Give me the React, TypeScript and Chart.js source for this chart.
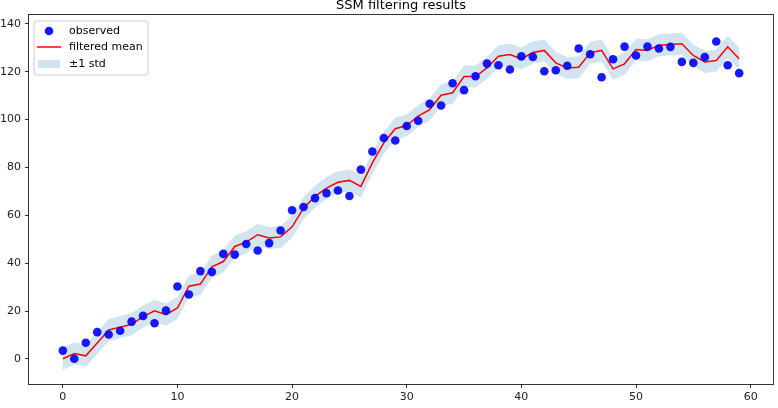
import React, { useEffect, useRef } from "react";
import { Chart, registerables } from "chart.js";

Chart.register(...registerables);

// Time steps 0..59
const steps: number[] = Array.from({ length: 60 }, (_, i) => i);

// Noisy observations
const observed: number[] = [
  3.5, 0.1, 6.8, 11.2, 10.2, 11.8, 15.6, 18.0, 14.9, 20.2,
  30.3, 26.9, 36.7, 36.4, 43.9, 43.6, 48.0, 45.3, 48.4, 53.7,
  62.1, 63.5, 67.2, 69.3, 70.4, 68.1, 79.1, 86.7, 92.3, 91.3,
  97.3, 99.5, 106.6, 105.9, 115.2, 112.3, 118.1, 123.4, 122.7, 120.9,
  126.4, 126.2, 120.2, 120.6, 122.5, 129.7, 127.3, 117.7, 125.2, 130.5,
  126.8, 130.5, 129.7, 130.4, 124.1, 123.7, 126.1, 132.6, 122.7, 119.4,
];

// Kalman filtered state mean
const filteredMean: number[] = [
  0.1, 2.3, 1.3, 6.7, 12.1, 13.3, 14.5, 17.7, 20.1, 18.5,
  21.3, 30.4, 31.3, 38.5, 40.7, 47.0, 48.8, 51.9, 50.5, 51.0,
  55.2, 63.0, 67.9, 71.4, 73.8, 74.6, 72.1, 81.9, 90.3, 96.2,
  97.5, 101.5, 104.2, 110.2, 111.2, 118.0, 118.0, 121.6, 126.5, 127.2,
  125.4, 128.0, 128.9, 123.7, 121.6, 121.9, 127.9, 128.9, 121.2, 123.3,
  129.3, 128.9, 131.1, 131.4, 131.7, 126.8, 124.1, 124.7, 130.4, 125.4,
];

// Filtered standard deviation
const filteredStd: number[] = [
  4.7, 4.6, 4.6, 4.6, 4.6, 4.6, 4.6, 4.6, 4.6, 4.6,
  4.6, 4.6, 4.6, 4.6, 4.6, 4.6, 4.6, 4.6, 4.6, 4.6,
  4.6, 4.6, 4.6, 4.6, 4.6, 4.6, 4.6, 4.6, 4.6, 4.6,
  4.6, 4.6, 4.6, 4.6, 4.6, 4.6, 4.6, 4.6, 4.6, 4.6,
  4.6, 4.6, 4.6, 4.6, 4.6, 4.6, 4.6, 4.6, 4.6, 4.6,
  4.6, 4.6, 4.6, 4.6, 4.6, 4.6, 4.6, 4.6, 4.6, 4.6,
];

const xTicks: number[] = [0, 10, 20, 30, 40, 50, 60];
const yTicks: number[] = [0, 20, 40, 60, 80, 100, 120, 140];

const TITLE = "SSM filtering results";
const LEGEND_LABELS = ["observed", "filtered mean", "±1 std"];

const FONT = "DejaVu Sans, sans-serif";
const POINT_COLOR = "rgba(0, 0, 255, 0.9)";
const LINE_COLOR = "rgb(255, 0, 0)";
const BAND_COLOR = "rgba(31, 119, 180, 0.2)";

const framePlugin = {
  id: "frameTitleLegend",
  afterDraw(chart: any) {
    const { ctx, chartArea } = chart;
    const { left, right, top, bottom } = chartArea;
    ctx.save();

    // axes frame (all four spines)
    ctx.strokeStyle = "rgba(0,0,0,0.8)";
    ctx.lineWidth = 1;
    ctx.strokeRect(
      Math.round(left) - 0.5,
      Math.round(top) - 0.5,
      Math.round(right - left) + 1,
      Math.round(bottom - top) + 1
    );

    // title
    ctx.fillStyle = "#000";
    ctx.font = `13px ${FONT}`;
    ctx.textAlign = "center";
    ctx.textBaseline = "alphabetic";
    ctx.fillText(TITLE, (left + right) / 2, 8.5);

    // legend box
    const bx = left + 5;
    const by = top + 6;
    const bw = 114;
    const bh = 54;
    const r = 3;
    ctx.beginPath();
    ctx.moveTo(bx + r, by);
    ctx.lineTo(bx + bw - r, by);
    ctx.quadraticCurveTo(bx + bw, by, bx + bw, by + r);
    ctx.lineTo(bx + bw, by + bh - r);
    ctx.quadraticCurveTo(bx + bw, by + bh, bx + bw - r, by + bh);
    ctx.lineTo(bx + r, by + bh);
    ctx.quadraticCurveTo(bx, by + bh, bx, by + bh - r);
    ctx.lineTo(bx, by + r);
    ctx.quadraticCurveTo(bx, by, bx + r, by);
    ctx.closePath();
    ctx.fillStyle = "rgba(255,255,255,0.8)";
    ctx.fill();
    ctx.strokeStyle = "rgba(204,204,204,1)";
    ctx.lineWidth = 1;
    ctx.stroke();

    const rowY = [by + 10, by + 26, by + 43];
    const handleX = bx + 3;
    const handleW = 24;

    // observed marker
    ctx.beginPath();
    ctx.arc(handleX + handleW / 2, rowY[0], 4.3, 0, Math.PI * 2);
    ctx.fillStyle = POINT_COLOR;
    ctx.fill();

    // filtered mean line
    ctx.beginPath();
    ctx.moveTo(handleX, rowY[1]);
    ctx.lineTo(handleX + handleW, rowY[1]);
    ctx.strokeStyle = LINE_COLOR;
    ctx.lineWidth = 1.5;
    ctx.stroke();

    // std patch
    ctx.fillStyle = BAND_COLOR;
    ctx.fillRect(handleX + 1, rowY[2] - 4, handleW - 2, 8);

    ctx.fillStyle = "#000";
    ctx.font = `11px ${FONT}`;
    ctx.textAlign = "left";
    ctx.textBaseline = "middle";
    LEGEND_LABELS.forEach((lab, i) => {
      ctx.fillText(lab, bx + 35, rowY[i] + 0.5);
    });

    ctx.restore();
  },
};

export default function App() {
  const canvasRef = useRef<HTMLCanvasElement | null>(null);

  useEffect(() => {
    const canvas = canvasRef.current;
    if (!canvas) return;

    const upper = steps.map((x, i) => ({ x, y: filteredMean[i] + filteredStd[i] }));
    const lower = steps.map((x, i) => ({ x, y: filteredMean[i] - filteredStd[i] }));
    const mean = steps.map((x, i) => ({ x, y: filteredMean[i] }));
    const obs = steps.map((x, i) => ({ x, y: observed[i] }));

    const chart = new Chart(canvas, {
      type: "line",
      data: {
        datasets: [
          {
            label: "observed",
            data: obs,
            showLine: false,
            pointRadius: 4.3,
            pointBackgroundColor: POINT_COLOR,
            pointBorderWidth: 0,
            order: 0,
          },
          {
            label: "filtered mean",
            data: mean,
            borderColor: LINE_COLOR,
            borderWidth: 1.5,
            pointRadius: 0,
            tension: 0,
            fill: false,
            order: 1,
          },
          {
            label: "upper",
            data: upper,
            borderWidth: 0,
            borderColor: "rgba(0,0,0,0)",
            pointRadius: 0,
            backgroundColor: BAND_COLOR,
            fill: "+1",
            order: 2,
          },
          {
            label: "lower",
            data: lower,
            borderWidth: 0,
            borderColor: "rgba(0,0,0,0)",
            pointRadius: 0,
            fill: false,
            order: 3,
          },
        ],
      },
      options: {
        responsive: false,
        animation: false,
        devicePixelRatio: 1,
        layout: { padding: { top: 15, right: 5, left: 0, bottom: 0 } },
        plugins: {
          legend: { display: false },
          title: { display: false },
          tooltip: { enabled: false },
        },
        scales: {
          x: {
            type: "linear",
            min: -2.95,
            max: 61.95,
            afterBuildTicks: (scale: any) => {
              scale.ticks = xTicks.map((v) => ({ value: v }));
            },
            afterFit: (scale: any) => {
              scale.height = 24;
            },
            grid: {
              drawOnChartArea: false,
              drawTicks: true,
              tickLength: 4,
              tickColor: "#333",
            },
            border: { display: false },
            ticks: {
              color: "#222",
              font: { family: FONT, size: 11 },
              padding: 3,
              maxRotation: 0,
            },
          },
          y: {
            type: "linear",
            min: -10.46,
            max: 143.7,
            afterBuildTicks: (scale: any) => {
              scale.ticks = yTicks.map((v) => ({ value: v }));
            },
            afterFit: (scale: any) => {
              scale.width = 29;
            },
            grid: {
              drawOnChartArea: false,
              drawTicks: true,
              tickLength: 4,
              tickColor: "#333",
            },
            border: { display: false },
            ticks: {
              color: "#222",
              font: { family: FONT, size: 11 },
              padding: 4,
            },
          },
        },
      },
      plugins: [framePlugin],
    });

    return () => chart.destroy();
  }, []);

  return (
    <div style={{ position: "fixed", left: 0, top: 0, width: 778, height: 408, background: "#fff" }}>
      <canvas ref={canvasRef} width={778} height={408} style={{ display: "block" }} />
    </div>
  );
}
